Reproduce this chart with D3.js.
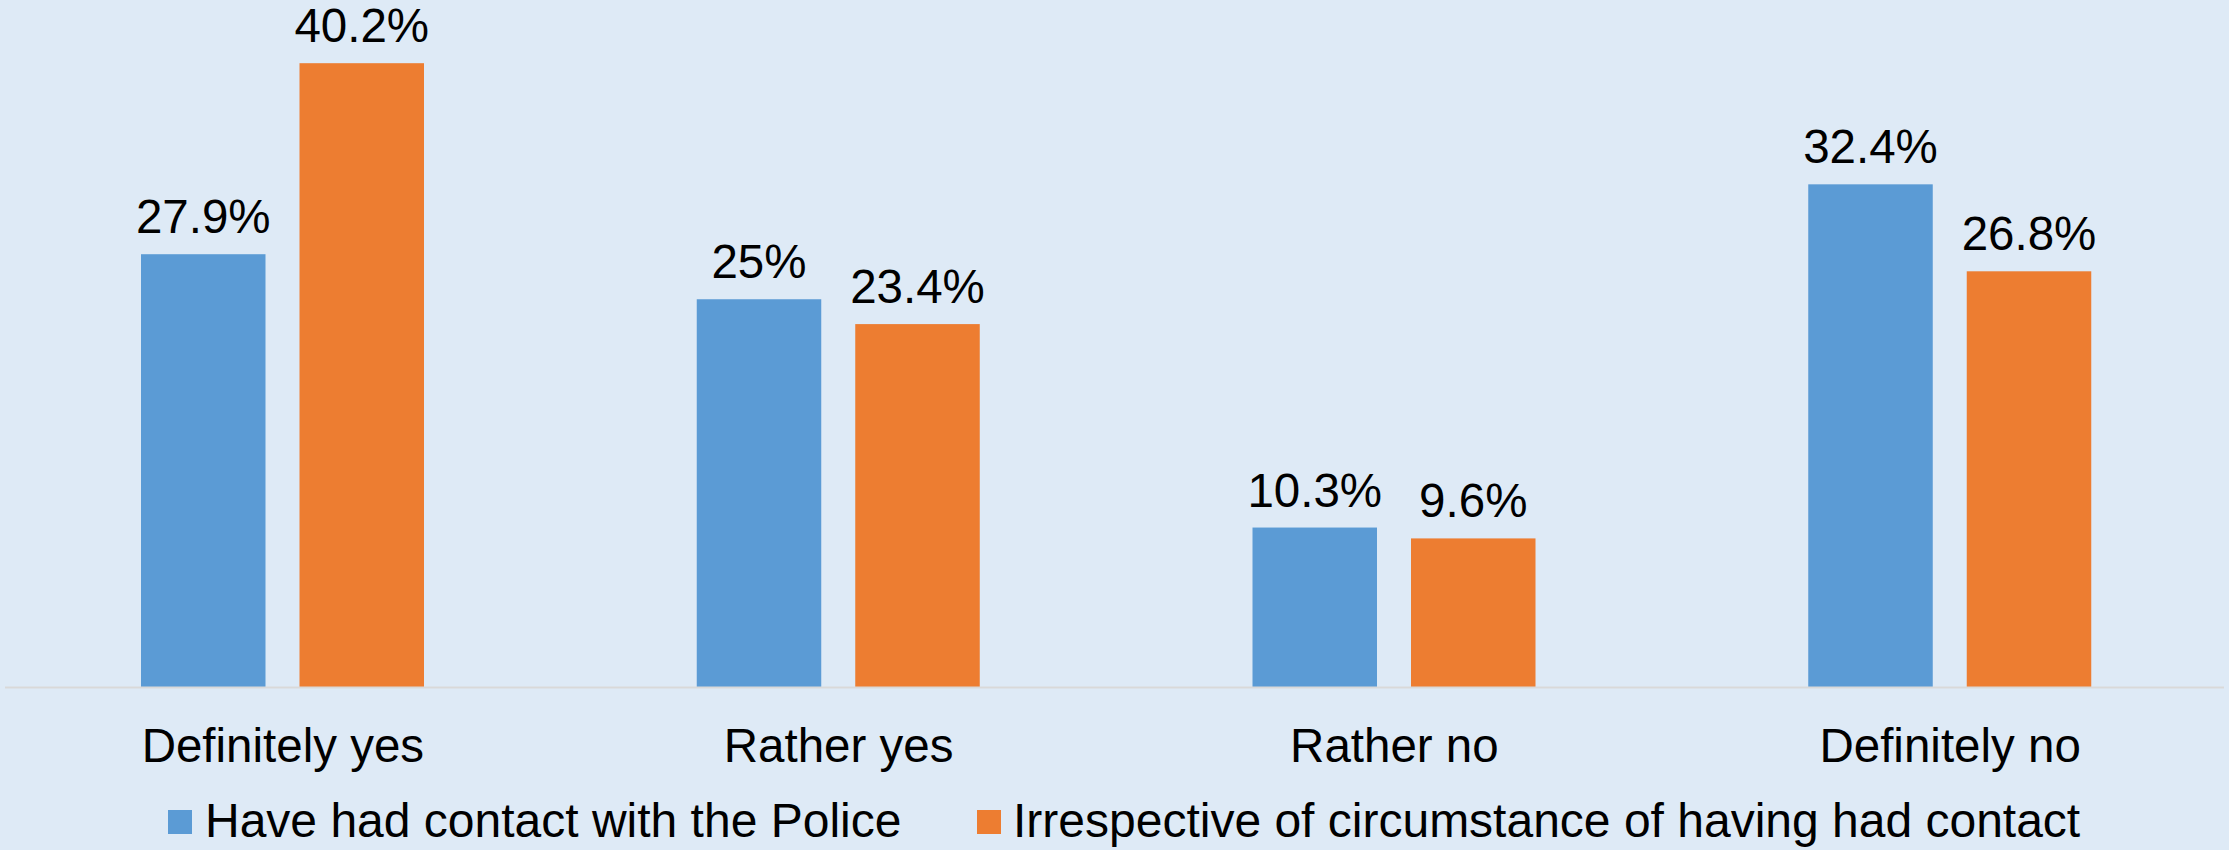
<!DOCTYPE html>
<html><head><meta charset="utf-8">
<script src="https://cdn.jsdelivr.net/npm/d3@7"></script>
<style>html,body{margin:0;padding:0;background:#deeaf6;}svg{display:block;}</style>
</head><body>
<svg id="chart" width="2229" height="850"></svg>
<script>
const categories = ["Definitely yes", "Rather yes", "Rather no", "Definitely no"];
const seriesNames = ["Have had contact with the Police", "Irrespective of circumstance of having had contact"];
const contactValues = [27.9, 25, 10.3, 32.4];
const irrespectiveValues = [40.2, 23.4, 9.6, 26.8];
const colors = ["#5b9bd5", "#ed7d31"];

const W = 2229, H = 850;
const svg = d3.select("#chart");
svg.append("rect").attr("width", W).attr("height", H).attr("fill", "#deeaf6");

const font = "'Liberation Sans', Arial, sans-serif";
const baseY = 687.5;
const pxPer = 15.53;
const y = d3.scaleLinear().domain([0, 44]).range([baseY, baseY - 44 * pxPer]);
const x0 = d3.scaleBand().domain(categories).range([5, 2228]).paddingInner(0).paddingOuter(0);
const x1 = d3.scaleBand().domain([0, 1]).range([136, 136 + 283]).paddingInner(34 / 158.5).paddingOuter(0);

const series = [contactValues, irrespectiveValues];
const data = [];
categories.forEach((c, i) => series.forEach((s, j) => data.push({cat: c, s: j, v: s[i]})));

const g = svg.append("g");
g.selectAll("rect.bar").data(data).join("rect")
  .attr("class", "bar")
  .attr("x", d => x0(d.cat) + x1(d.s))
  .attr("width", x1.bandwidth())
  .attr("y", d => y(d.v))
  .attr("height", d => y(0) - y(d.v))
  .attr("fill", d => colors[d.s]);

g.selectAll("text.val").data(data).join("text")
  .attr("class", "val")
  .attr("x", d => x0(d.cat) + x1(d.s) + x1.bandwidth() / 2)
  .attr("y", d => y(d.v) - 21)
  .attr("text-anchor", "middle")
  .attr("font-family", font).attr("font-size", 47.5).attr("fill", "#000")
  .text(d => d.v + "%");

// axis
const axis = d3.axisBottom(x0).tickSize(0).tickPadding(0);
const ax = svg.append("g").attr("transform", `translate(0,${baseY})`).call(axis);
ax.select(".domain").attr("stroke", "#d9d9d9").attr("stroke-width", 2).attr("d", "M5,0H2224");
ax.selectAll("text").attr("font-family", font).attr("font-size", 47.5).attr("fill", "#000")
  .attr("dy", null).attr("y", 74);

// legend
const legendItems = [{x: 168, tx: 205}, {x: 977, tx: 1013}];
const lg = svg.append("g");
legendItems.forEach((it, i) => {
  lg.append("rect").attr("x", it.x).attr("y", 810).attr("width", 24).attr("height", 24).attr("fill", colors[i]);
  lg.append("text").attr("x", it.tx).attr("y", 837).attr("font-family", font).attr("font-size", 48)
    .attr("fill", "#000").text(seriesNames[i]);
});
</script>
</body></html>
